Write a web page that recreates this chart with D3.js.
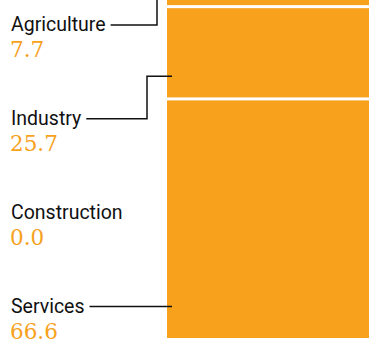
<!DOCTYPE html>
<html><head><meta charset="utf-8">
<script src="https://cdn.jsdelivr.net/npm/d3@7"></script>
<style>html,body{margin:0;padding:0;background:#fff;overflow:hidden}</style>
</head><body>
<svg id="chart" width="369" height="340"></svg>
<script>
const categories = ["Agriculture", "Industry", "Construction", "Services"];
const values = [7.7, 25.7, 0.0, 66.6];
const valueLabels = ["7.7", "25.7", "0.0", "66.6"];
// point along the stacked bar (in % units) that each leader line points to
const leaderAnchors = [3.85, 27.1, null, 91.0];

const W = 369, H = 340;
const orange = "#f7a11c";
const svg = d3.select("#chart");

const y = d3.scaleLinear().domain([0, 100]).range([-21, 338]);
const labelY = d3.scalePoint().domain(categories).range([31, 312.5]);
const barX = 167, gap = 1.5;
const elbowX = {"Agriculture": 157, "Industry": 147};

let cum = 0;
const segs = categories.map((c, i) => {
  const s = {cat: c, v: values[i], start: cum, end: cum + values[i]};
  cum += values[i];
  return s;
}).filter(s => s.v > 0);

svg.selectAll("rect.seg").data(segs).join("rect")
  .attr("class", "seg")
  .attr("x", barX)
  .attr("y", d => y(d.start) + (d.start > 0 ? gap : 0))
  .attr("width", W - barX + 20)
  .attr("height", d => y(d.end) - y(d.start) - (d.start > 0 ? gap : 0) - (d.end < 100 ? gap : 0))
  .attr("fill", orange);

const g = svg.selectAll("g.lab").data(categories).join("g").attr("class", "lab");
g.append("text")
  .attr("x", 11).attr("y", d => labelY(d))
  .attr("font-family", "Roboto, sans-serif")
  .attr("font-size", 19.5)
  .attr("fill", "#111")
  .text(d => d);
g.append("text")
  .attr("x", 10).attr("y", d => labelY(d) + 26)
  .attr("font-family", "'DejaVu Serif', serif")
  .attr("font-size", 21.5)
  .attr("font-weight", 300)
  .attr("fill", orange)
  .text((d, i) => valueLabels[i]);

// leader lines
g.each(function(d, i) {
  const a = leaderAnchors[i];
  if (a === null) return;
  const t = d3.select(this).select("text").node();
  const bb = t.getBBox();
  const x0 = bb.x + bb.width + 5;
  const ly = labelY(d) - 6;
  const ay = y(a);
  const endX = barX + 5;
  let pts;
  if (Math.abs(ay - ly) < 1.5) {
    pts = [[x0, ly], [endX, ly]];
  } else {
    const ex = elbowX[d];
    pts = [[x0, ly], [ex, ly], [ex, ay], [endX, ay]];
  }
  d3.select(this).append("path")
    .attr("d", d3.line()(pts))
    .attr("fill", "none")
    .attr("stroke", "#111")
    .attr("stroke-width", 1.5);
});
</script>
</body></html>
